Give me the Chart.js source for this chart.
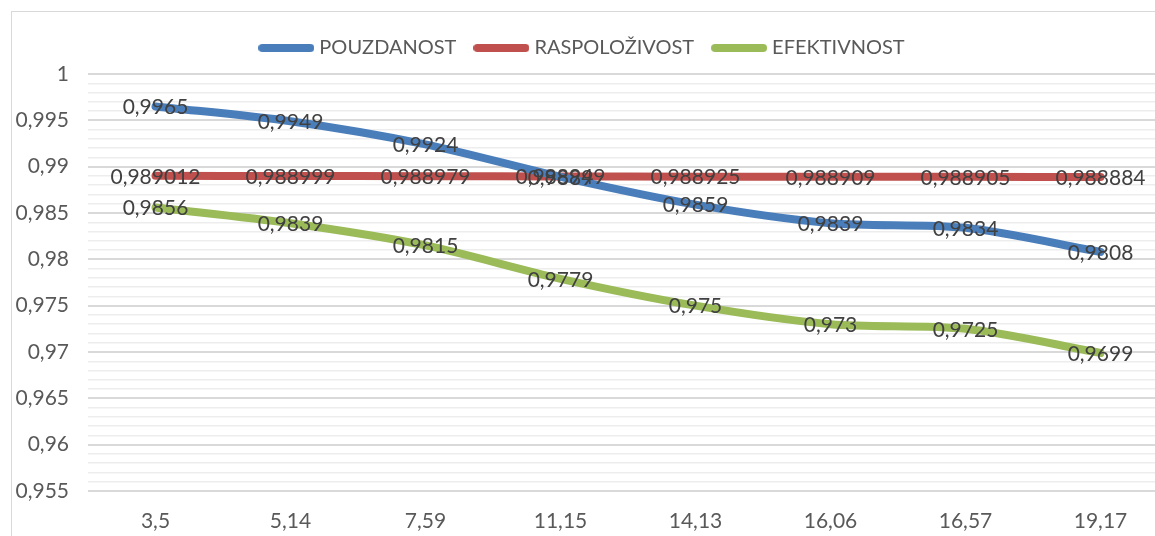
<!DOCTYPE html>
<html>
<head>
<meta charset="utf-8">
<script src="https://cdn.jsdelivr.net/npm/chart.js@4"></script>
<style>
  html, body { margin: 0; padding: 0; background: #fff; overflow: hidden; }
  #frame { position: absolute; left: 11px; top: 11px; width: 1200px; height: 600px; border: 1px solid #d9d9d9; box-sizing: border-box; }
  #wrap { position: absolute; left: 0; top: 0; width: 1176px; height: 536px; }
</style>
</head>
<body>
<div id="frame"></div>
<div id="wrap"><canvas id="chart" width="1176" height="536"></canvas></div>
<script>
const categories = ["3,5", "5,14", "7,59", "11,15", "14,13", "16,06", "16,57", "19,17"];
const pouzdanost = [0.9965, 0.9949, 0.9924, 0.9889, 0.9859, 0.9839, 0.9834, 0.9808];
const raspolozivost = [0.989012, 0.988999, 0.988979, 0.988949, 0.988925, 0.988909, 0.988905, 0.988884];
const efektivnost = [0.9856, 0.9839, 0.9815, 0.9779, 0.975, 0.973, 0.9725, 0.9699];
const yMin = 0.955, yMax = 1, yStep = 0.001;

const FONT = "Lato, 'Open Sans', sans-serif";
const fmt = v => String(+v.toFixed(6)).replace(".", ",");

function legendLine(color) {
    const c = document.createElement("canvas");
    c.width = 56; c.height = 10;
    const g = c.getContext("2d");
    g.strokeStyle = color;
    g.lineWidth = 8;
    g.lineCap = "round";
    g.beginPath();
    g.moveTo(4, 5);
    g.lineTo(52, 5);
    g.stroke();
    return c;
}

// extra space under the legend
const legendGap = {
    id: "legendGap",
    beforeLayout(chart) {
        const lg = chart.legend;
        if (lg && !lg._patched) {
            const fit = lg.fit;
            lg.fit = function () { fit.call(this); this.height += 6; };
            lg._patched = true;
        }
    }
};

const valueLabels = {
    id: "valueLabels",
    afterDatasetsDraw(chart) {
        const ctx = chart.ctx;
        ctx.save();
        ctx.font = "21px " + FONT;
        ctx.fillStyle = "#404040";
        ctx.textAlign = "center";
        ctx.textBaseline = "middle";
        chart.data.datasets.forEach((ds, i) => {
            chart.getDatasetMeta(i).data.forEach((pt, j) => {
                ctx.fillText(fmt(ds.data[j]), pt.x, pt.y + 1);
            });
        });
        ctx.restore();
    }
};

const series = [
    { label: "POUZDANOST", data: pouzdanost, color: "#4a7ebb" },
    { label: "RASPOLOŽIVOST", data: raspolozivost, color: "#c0504d" },
    { label: "EFEKTIVNOST", data: efektivnost, color: "#9bbb59" }
];

new Chart(document.getElementById("chart"), {
    type: "line",
    data: {
        labels: categories,
        datasets: series.map(s => ({
            label: s.label,
            data: s.data,
            borderColor: s.color,
            backgroundColor: s.color,
            borderWidth: 8,
            tension: 0.3,
            pointRadius: 0,
            pointStyle: legendLine(s.color),
            borderCapStyle: "round",
            borderJoinStyle: "round"
        }))
    },
    options: {
        responsive: false,
        animation: false,
        layout: { padding: { top: 16, right: 8, left: 0, bottom: 0 } },
        plugins: {
            tooltip: { enabled: false },
            legend: {
                position: "top",
                labels: {
                    usePointStyle: true,
                    pointStyleWidth: 46,
                    boxHeight: 10,
                    padding: 22,
                    color: "#595959",
                    font: { family: FONT, size: 20 }
                }
            }
        },
        scales: {
            x: {
                offset: true,
                afterFit: s => { s.height = 45; },
                grid: { display: false, drawTicks: false },
                border: { display: false },
                ticks: { color: "#595959", padding: 18, font: { family: FONT, size: 21 } }
            },
            y: {
                min: yMin,
                max: yMax,
                afterFit: s => { s.width = 88; },
                border: { display: false },
                grid: {
                    drawTicks: false,
                    color: c => Math.round(c.tick.value * 1000) % 5 === 0 ? "#d9d9d9" : "#ededed",
                    lineWidth: c => Math.round(c.tick.value * 1000) % 5 === 0 ? 2 : 1.5
                },
                ticks: {
                    stepSize: yStep,
                    autoSkip: false,
                    padding: 19,
                    color: "#595959",
                    font: { family: FONT, size: 21 },
                    callback: v => Math.round(v * 1000) % 5 === 0 ? String(+v.toFixed(3)).replace(".", ",") : ""
                }
            }
        }
    },
    plugins: [legendGap, valueLabels]
});
</script>
</body>
</html>
